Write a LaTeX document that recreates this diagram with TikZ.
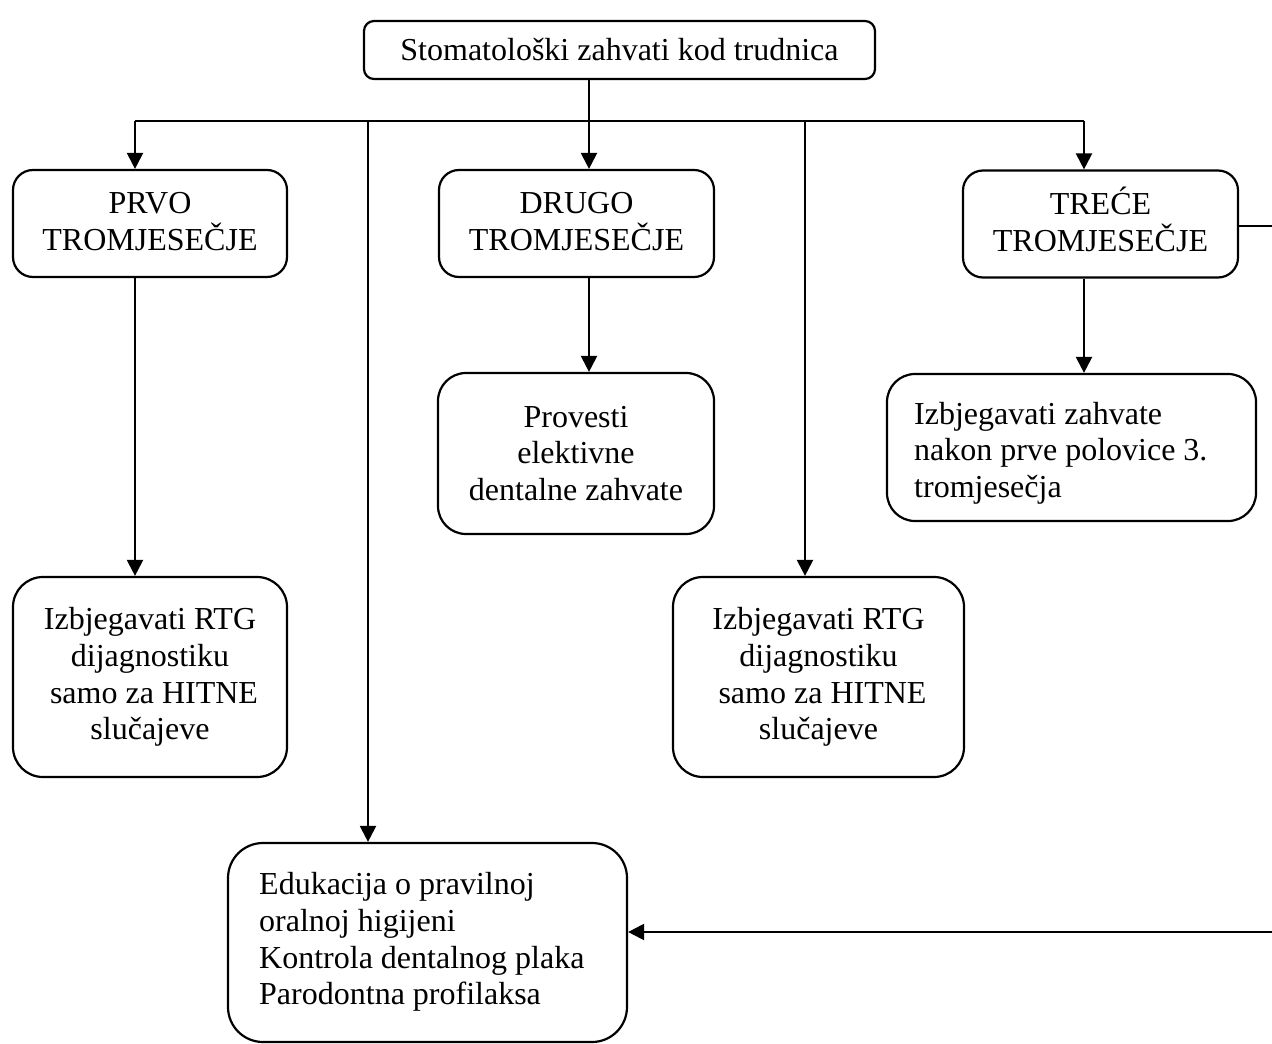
\documentclass[tikz,border=0pt]{standalone}
\usepackage{fontspec}
\setmainfont{Liberation Serif}
\usetikzlibrary{arrows.meta,calc}
\begin{document}
\begin{tikzpicture}[x=1pt,y=-1pt,
  every node/.style={font=\fontsize{32}{36.7}\selectfont},
  box/.style={draw,line width=2.2pt,rectangle,inner sep=0pt,align=center},
  txt/.style={inner sep=0pt,align=left,anchor=west},
  conn/.style={line width=2.2pt},
  arr/.style={line width=2.2pt,-{Triangle[length=16pt,width=16pt]}}]
\useasboundingbox (0,0) rectangle (1272,1044);
% boxes
\node[box,rounded corners=10pt,minimum width=511pt,minimum height=58pt] (top) at (619.5,50) {Stomatološki zahvati kod trudnica};
\node[box,rounded corners=20pt,minimum width=274pt,minimum height=107pt] (prvo) at (150,223.5) {\vphantom{Ć}PRVO\\TROMJESEČJE\rule[-10pt]{0pt}{10pt}};
\node[box,rounded corners=20pt,minimum width=275pt,minimum height=107pt] (drugo) at (576.5,223.5) {\vphantom{Ć}DRUGO\\TROMJESEČJE\rule[-10pt]{0pt}{10pt}};
\node[box,rounded corners=20pt,minimum width=275pt,minimum height=107pt] (trece) at (1100.5,224) {TREĆE\\TROMJESEČJE\rule[-10pt]{0pt}{10pt}};
\node[box,rounded corners=28pt,minimum width=276pt,minimum height=161pt] (provesti) at (576,453.5) {Provesti\\elektivne\\dentalne zahvate};
\node[box,rounded corners=28pt,minimum width=369pt,minimum height=147pt] (izbz) at (1071.5,447.5) {};
\node[txt] (izbztxt) at (914,453) {Izbjegavati zahvate\\nakon prve polovice 3.\\tromjesečja};
\node[box,rounded corners=30pt,minimum width=274pt,minimum height=200pt] (rtga) at (150,677) {Izbjegavati RTG\\dijagnostiku\\\hspace*{0.25em}samo za HITNE\\slučajeve};
\node[box,rounded corners=30pt,minimum width=291pt,minimum height=200pt] (rtgb) at (818.5,677) {Izbjegavati RTG\\dijagnostiku\\\hspace*{0.25em}samo za HITNE\\slučajeve};
\node[box,rounded corners=35pt,minimum width=399pt,minimum height=199pt] (edu) at (427.5,942.5) {};
\node[txt] (edutxt) at (259,942) {Edukacija o pravilnoj\\oralnoj higijeni\\Kontrola dentalnog plaka\\Parodontna profilaksa};
% bus
\coordinate (bc) at (589,121);
\coordinate (b1) at (135,121);
\coordinate (b2) at (368,121);
\coordinate (b3) at (805,121);
\coordinate (b4) at (1084,121);
\draw[conn] (top.south -| bc) -- (bc);
\draw[conn] (b1) -- (b4);
\draw[arr] (b1) -- (b1 |- prvo.north);
\draw[arr] (b2) -- (b2 |- edu.north);
\draw[arr] (bc) -- (bc |- drugo.north);
\draw[arr] (b3) -- (b3 |- rtgb.north);
\draw[arr] (b4) -- (b4 |- trece.north);
% second level
\draw[arr] (prvo.south -| b1) -- (b1 |- rtga.north);
\draw[arr] (drugo.south -| bc) -- (bc |- provesti.north);
\draw[arr] (trece.south -| b4) -- (b4 |- izbz.north);
% loop back
\coordinate (r1) at (1273,226);
\coordinate (r2) at (1273,932);
\draw[arr] (trece.east |- r1) -- (r1) -- (r2) -- (r2 -| edu.east);
\end{tikzpicture}
\end{document}
